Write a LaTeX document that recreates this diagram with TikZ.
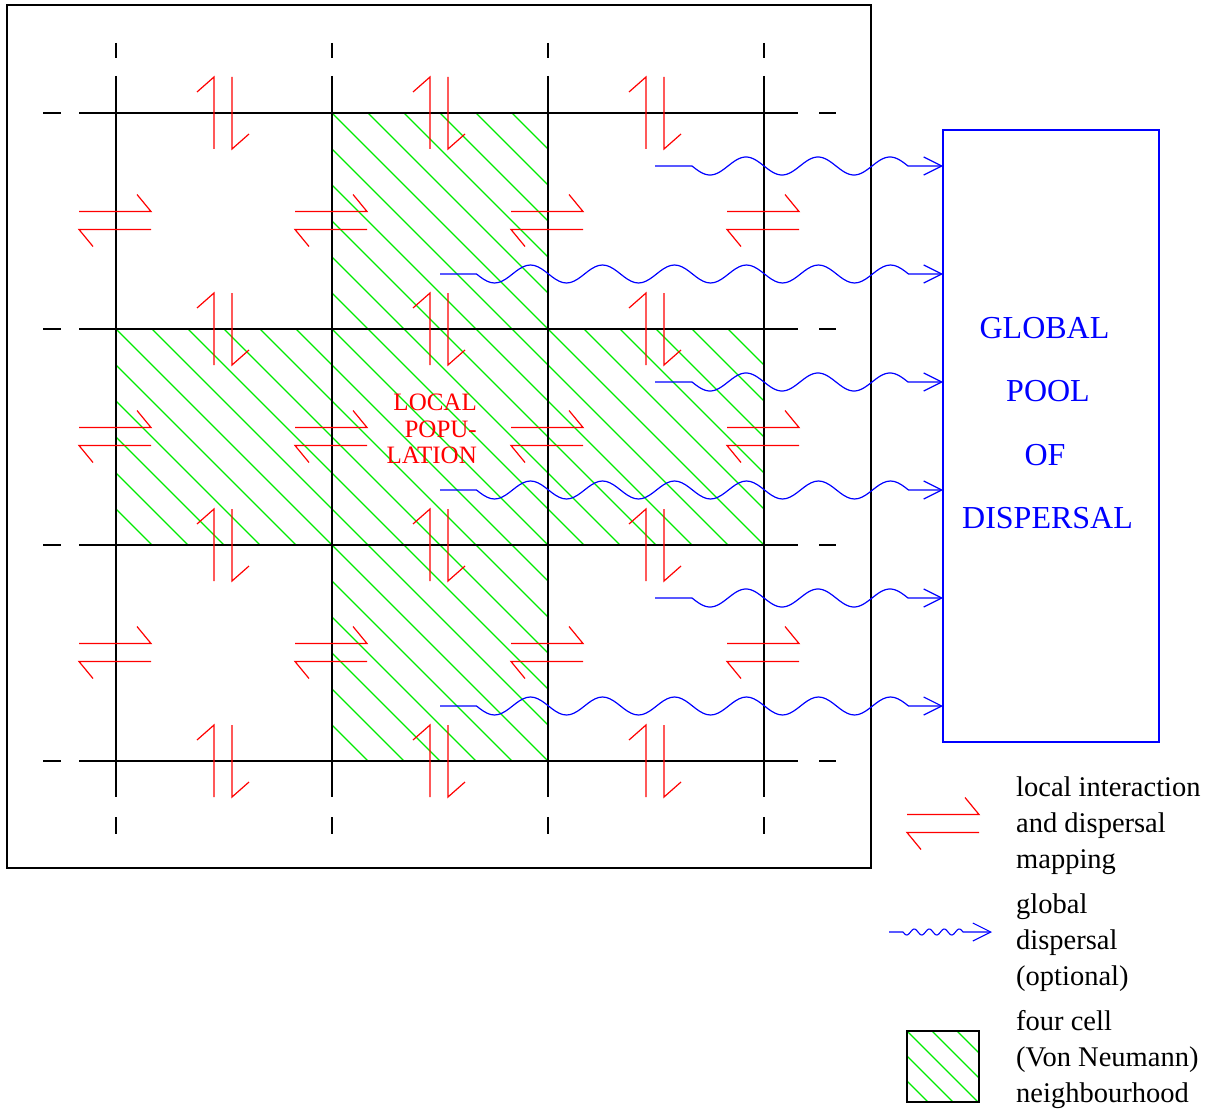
\documentclass[tikz,border=0pt]{standalone}
\usepackage{fontspec}
\setmainfont{Liberation Serif}
\usetikzlibrary{arrows.meta}
\definecolor{figred}{RGB}{255,0,0}
\definecolor{figgreen}{RGB}{0,235,0}
\definecolor{figblue}{RGB}{0,0,255}
\tikzset{
  gridline/.style={black,line width=1.1pt},
  hatchline/.style={figgreen,line width=1.1pt},
  redline/.style={figred,line width=1.2pt},
  vpair/.pic={
    \draw[redline] (-9,36) -- (-9,-36) -- (-26,-21);
    \draw[redline] (9,-36) -- (9,36) -- (26,21);
  },
  hpair/.pic={
    \draw[redline] (-36,-9) -- (36,-9) -- (22,-26);
    \draw[redline] (36,9) -- (-36,9) -- (-22,26);
  },
  bluetip/.style={-{Straight Barb[length=18pt,width=18pt]}},
  wavy/.style={figblue,line width=1.2pt,bluetip,line join=round},
  wavysmall/.style={figblue,line width=1.1pt,bluetip,line join=round},
  poolbox/.style={draw=figblue,line width=1.2pt,minimum width=216pt,
    minimum height=612pt,inner sep=0pt,outer sep=0pt},
  pooltext/.style={figblue,inner sep=0pt,anchor=base,
    font=\fontsize{32}{38}\selectfont},
  redtext/.style={figred,inner sep=0pt,anchor=base east,
    font=\fontsize{25}{27}\selectfont},
  keytext/.style={black,inner sep=0pt,anchor=base west,
    font=\fontsize{28.5}{36}\selectfont},
}
\begin{document}
\begin{tikzpicture}[x=1pt,y=-1pt]
\useasboundingbox (0,0) rectangle (1223,1110);

% hatched von Neumann neighbourhood
\begin{scope}
  \clip (332,113) -- (548,113) -- (548,329) -- (764,329) -- (764,545)
    -- (548,545) -- (548,761) -- (332,761) -- (332,545) -- (116,545)
    -- (116,329) -- (332,329) -- cycle;
  \foreach \k in {-13,...,13}
    \draw[hatchline] ({3+36*\k+90},90) -- ({3+36*\k+790},790);
\end{scope}

% outer frame
\draw[gridline] (7,5) rectangle (871,868);

% grid
\foreach \v in {113,329,545,761} {
  \draw[gridline] (79,\v) -- (798,\v);
  \draw[gridline] (43,\v) -- (61,\v);
  \draw[gridline] (819,\v) -- (836,\v);
}
\foreach \u in {116,332,548,764} {
  \draw[gridline] (\u,76) -- (\u,797);
  \draw[gridline] (\u,43) -- (\u,58);
  \draw[gridline] (\u,817) -- (\u,834);
}

% local interaction arrows
\foreach \cx in {223,439,655}
  \foreach \cy in {113,329,545,761}
    \pic at (\cx,\cy) {vpair};
\foreach \cx in {115,331,547,763}
  \foreach \cy in {220.5,436.5,652.5}
    \pic at (\cx,\cy) {hpair};

% local population label
\node[redtext] (loc1) at (477,410) {LOCAL};
\node[redtext] (loc2) at (477,437) {POPU-};
\node[redtext] (loc3) at (477,463) {LATION};

% global pool
\node[poolbox] (pool) at (1051,436) {};
\node[pooltext] (pt1) at (1044.5,338.5) {GLOBAL};
\node[pooltext] (pt2) at (1048,401.5) {POOL};
\node[pooltext] (pt3) at (1045,465) {OF};
\node[pooltext] (pt4) at (1047.5,528) {DISPERSAL};

% global dispersal arrows (flat lead-in, sine wave, flat run to the pool)
\foreach \i/\sx/\pre/\len in {1/655/37/216,2/440/36.5/432,3/655/37/216,4/440/36.5/432,5/655/37/216,6/440/36.5/432} {
  \coordinate (ws\i) at (\sx,{166+108*(\i-1)});
  \draw[wavy,shift={(ws\i)}] (0,0) -- (\pre,0)
    -- plot[domain=0:\len,samples=121,smooth] ({\pre+\x},{9*sin(5*\x)})
    -- (pool.west |- ws\i);
}

% legend
\pic (keypair) at (943,823.5) {hpair};
\node[keytext] (k1a) at (1016,796) {local interaction};
\node[keytext] (k1b) at (1016,832) {and dispersal};
\node[keytext] (k1c) at (1016,868) {mapping};

\coordinate (gws) at (889,932);
\coordinate (gwe) at (992,932);
\draw[wavysmall,shift={(gws)}] (0,0) -- (14,0)
  -- plot[domain=0:60,samples=61,smooth] ({14+\x},{3*sin(24*\x)})
  -- (gwe);
\node[keytext] (k2a) at (1016,913) {global};
\node[keytext] (k2b) at (1016,949) {dispersal};
\node[keytext] (k2c) at (1016,985) {(optional)};

\node[draw=black,line width=1.1pt,minimum width=72pt,minimum height=71pt,
  inner sep=0pt,outer sep=0pt] (hatchkey) at (943,1066.5) {};
\begin{scope}
  \clip (hatchkey.north west) rectangle (hatchkey.south east);
  \foreach \k in {-3,...,3}
    \draw[hatchline] ({-124+25*\k+1020},1020) -- ({-124+25*\k+1110},1110);
\end{scope}
\draw[black,line width=1.1pt] (hatchkey.north west) rectangle (hatchkey.south east);
\node[keytext] (k3a) at (1016,1030) {four cell};
\node[keytext] (k3b) at (1016,1066) {(Von Neumann)};
\node[keytext] (k3c) at (1016,1102) {neighbourhood};
\end{tikzpicture}
\end{document}
